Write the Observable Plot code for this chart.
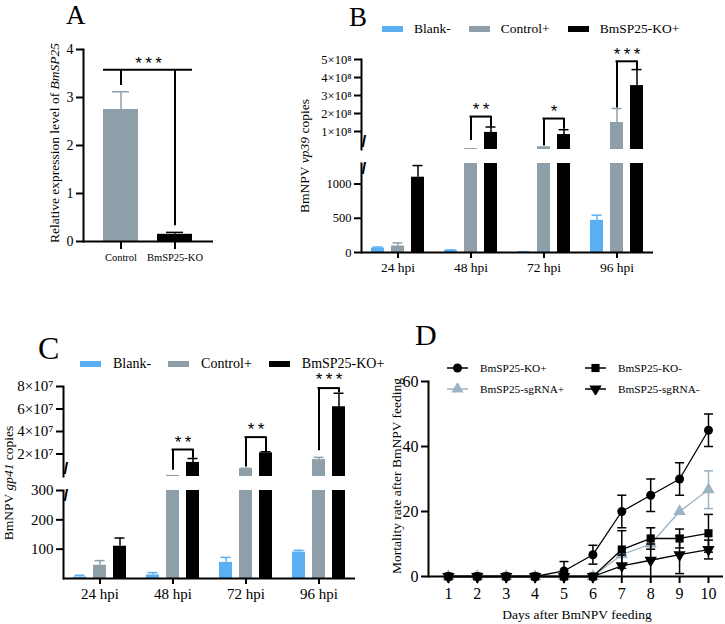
<!DOCTYPE html>
<html><head><meta charset="utf-8">
<script src="https://cdn.jsdelivr.net/npm/d3@7"></script>
<script src="https://cdn.jsdelivr.net/npm/@observablehq/plot@0.6"></script>
<style>
html,body{margin:0;padding:0;background:#fff;}
#root{position:relative;width:725px;height:624px;overflow:hidden;font-family:"Liberation Serif","Times New Roman",serif;color:#000;}
.letter{position:absolute;line-height:1;}
.ylab{position:absolute;white-space:nowrap;transform:translate(-50%,-50%) rotate(-90deg);font-size:13.5px;line-height:1;}
.xlab{position:absolute;white-space:nowrap;transform:translate(-50%,-50%);font-size:13.5px;line-height:1;}
.legend{position:absolute;display:flex;align-items:center;white-space:nowrap;line-height:1;}
.legend .item{display:flex;align-items:center;}
.legend .sw{display:inline-block;width:21px;height:6px;}
.dleg{position:absolute;display:grid;grid-template-columns:138px auto;grid-auto-rows:21px;font-size:11.3px;align-items:center;white-space:nowrap;}
.dleg .item{display:flex;align-items:center;}
.dleg svg{margin-right:12px;}
</style></head>
<body><div id="root"></div>
<script>
// ---------------- data ----------------
const times = ["24 hpi", "48 hpi", "72 hpi", "96 hpi"];
const seriesNames = ["Blank-", "Control+", "BmSP25-KO+"];

// Panel A
const aGroups = ["Control", "BmSP25-KO"];
const aMean = [2.75, 0.15];
const aErr = [0.37, 0.04];
const aBracket = {top: 3.58, left: 3.25, right: 0.33, star: 3.8, label: "***"};
const aTicks = [0, 1, 2, 3, 4];

// Panel B (vp39 copies)
const bBlank = [65, 30, 8, 470];
const bBlankErr = [15, 8, 4, 75];
const bControl = [95, 5e6, 1.5e7, 1.5e8];
const bControlErr = [45, 0, 0, 0.78e8];
const bKO = [1100, 0.95e8, 0.83e8, 3.55e8];
const bKOErr = [170, 0.3e8, 0.27e8, 0.89e8];
const bBrTimes = ["48 hpi", "72 hpi", "96 hpi"];
const bBrTop = [1.83e8, 1.72e8, 4.9e8];
const bBrLeft = [0.5e8, 0.2e8, 2.3e8];
const bBrRight = [1.25e8, 1.12e8, 4.45e8];
const bBrStar = [2.45e8, 2.33e8, 5.5e8];
const bBrLabel = ["**", "*", "***"];
const bLowTicks = [0, 500, 1000];
const bUpTicks = [1e8, 2e8, 3e8, 4e8, 5e8];

// Panel C (gp41 copies)
const cBlank = [5, 12, 55, 90];
const cBlankErr = [6, 8, 17, 6];
const cControl = [45, 1e6, 7e6, 1.5e7];
const cControlErr = [16, 0, 0.3e6, 0.2e7];
const cKO = [110, 1.25e7, 2.1e7, 6.2e7];
const cKOErr = [28, 0.35e7, 0.1e7, 1.2e7];
const cBrTimes = ["48 hpi", "72 hpi", "96 hpi"];
const cBrTop = [2.4e7, 3.5e7, 7.86e7];
const cBrLeft = [0.55e7, 0.85e7, 2.3e7];
const cBrRight = [1.62e7, 2.2e7, 7.45e7];
const cBrStar = [3.4e7, 4.55e7, 9.0e7];
const cBrLabel = ["**", "**", "***"];
const cLowTicks = [100, 200, 300];
const cUpTicks = [2e7, 4e7, 6e7, 8e7];

// Panel D (mortality, %)
const days = [1, 2, 3, 4, 5, 6, 7, 8, 9, 10];
const koPlus = [0, 0, 0, 0, 1.7, 6.7, 20, 25, 30, 45];
const koPlusErr = [0, 0, 0, 0, 2.9, 2.9, 5, 5, 5, 5];
const sgPlus = [0, 0, 0, 0, 0, 0, 6.7, 10, 20, 26.7];
const sgPlusErr = [0, 0, 0, 0, 0, 0, 0, 5, 0, 5.8];
const koMinus = [0, 0, 0, 0, 0, 0, 8.3, 11.7, 11.7, 13.3];
const koMinusErr = [0, 0, 0, 0, 0, 0, 5.8, 3.3, 2.9, 5.8];
const sgMinus = [0, 0, 0, 0, 0, 0, 3.3, 5, 6.7, 8.3];
const sgMinusErr = [0, 0, 0, 0, 0, 0, 3.3, 5, 5.8, 2.9];
const dTicksY = [0, 20, 40, 60];

// ---------------- style ----------------
const SERIF = '"Liberation Serif","Times New Roman",serif';
const SANS = '"Liberation Sans",Arial,sans-serif';
const COL_BLANK = "#5aaef2", COL_CTRL = "#8e9fa9", COL_KO = "#000000", COL_SG = "#9db3c1";
const seriesColors = [COL_BLANK, COL_CTRL, COL_KO];
const root = document.getElementById("root");
const baseStyle = {fontFamily: SERIF, fontSize: "13px", color: "#000", background: "transparent", overflow: "visible"};
const plain = d => String(d);

function place(node, left, top) {
  node.style.position = "absolute";
  node.style.left = left + "px";
  node.style.top = top + "px";
  root.appendChild(node);
  return node;
}
function div(cls, left, top, htmlText, extra) {
  const d = document.createElement("div");
  d.className = cls;
  d.innerHTML = htmlText;
  d.style.left = left + "px";
  d.style.top = top + "px";
  if (extra) Object.assign(d.style, extra);
  root.appendChild(d);
  return d;
}
const starText = s => s.split("").join("\u2009");

// ---------------- Panel A ----------------
const aColors = [COL_CTRL, COL_KO];
const aRows = aGroups.map((g, i) => ({group: g, mean: aMean[i], hi: aMean[i] + aErr[i], color: aColors[i]}));
place(Plot.plot({
  width: 190, height: 250, marginLeft: 43, marginRight: 17, marginTop: 19, marginBottom: 39,
  style: baseStyle,
  x: {type: "band", domain: aGroups, paddingInner: 0.345, paddingOuter: 0.355, label: null},
  y: {domain: [0, 4], label: null},
  marks: [
    Plot.barY(aRows, {x: "group", y: "mean", fill: "color"}),
    Plot.ruleX(aRows, {x: "group", y1: "mean", y2: "hi", stroke: "color", strokeWidth: 1.5}),
    Plot.tickY(aRows, {x: "group", y: "hi", stroke: "color", strokeWidth: 1.5, insetLeft: 9, insetRight: 9}),
    Plot.ruleX([aBracket], {x: () => aGroups[0], y1: "left", y2: "top", strokeWidth: 2}),
    Plot.ruleX([aBracket], {x: () => aGroups[1], y1: "right", y2: "top", strokeWidth: 2}),
    Plot.ruleY([aBracket], {y: "top", x1: () => aGroups[0], x2: () => aGroups[1], strokeWidth: 2}),
    Plot.text([aBracket], {y: "star", text: d => starText(d.label), fontFamily: SANS, fontSize: 17, dy: 4}),
    Plot.frame({anchor: "left", strokeWidth: 2}),
    Plot.ruleY([0], {strokeWidth: 2}),
    Plot.axisY({ticks: aTicks, tickFormat: plain, label: null, tickSize: 7, fontSize: 14, strokeWidth: 2}),
    Plot.axisX({label: null, tickSize: 8, tickPadding: 4, fontSize: 10.5, strokeWidth: 2})
  ]
}), 40, 30);

// ---------------- grouped broken-axis panels (B, C) ----------------
function buildRows(vals, errs, name, color) {
  return times.map((t, i) => ({time: t, series: name, value: vals[i], err: errs[i], hi: vals[i] + errs[i], color}));
}
function groupedPanel(cfg) {
  const BW = (cfg.width - cfg.mL - cfg.mR) / times.length;
  const barW = 13, gap = 20, capW = 10;
  const barInset = (BW - barW) / 2, capInset = (BW - capW) / 2;
  const lowMarks = [], upMarks = [];
  cfg.series.forEach((rows, k) => {
    const dx = (k - 1) * gap;
    const color = rows[0].color;
    lowMarks.push(
      Plot.barY(rows, {x: "time", y: d => Math.min(d.value, cfg.lowMax), fill: color, dx, insetLeft: barInset, insetRight: barInset}),
      Plot.ruleX(rows.filter(d => d.err > 0 && d.value < cfg.lowMax), {x: "time", y1: "value", y2: d => Math.min(d.hi, cfg.lowMax), stroke: color, strokeWidth: 1.5, dx}),
      Plot.tickY(rows.filter(d => d.err > 0 && d.hi < cfg.lowMax), {x: "time", y: "hi", stroke: color, strokeWidth: 1.5, dx, insetLeft: capInset, insetRight: capInset})
    );
    const big = rows.filter(d => d.value > cfg.lowMax);
    upMarks.push(
      Plot.barY(big, {x: "time", y: "value", fill: color, dx, insetLeft: barInset, insetRight: barInset}),
      Plot.ruleX(big.filter(d => d.err > 0), {x: "time", y1: "value", y2: "hi", stroke: color, strokeWidth: 1.5, dx}),
      Plot.tickY(big.filter(d => d.err > 0), {x: "time", y: "hi", stroke: color, strokeWidth: 1.5, dx, insetLeft: capInset, insetRight: capInset})
    );
  });
  const br = cfg.brackets;
  upMarks.push(
    Plot.ruleX(br, {x: "time", y1: "left", y2: "top", strokeWidth: 2}),
    Plot.ruleX(br, {x: "time", y1: "right", y2: "top", strokeWidth: 2, dx: gap}),
    Plot.tickY(br, {x: "time", y: "top", strokeWidth: 2, insetLeft: BW / 2 - 1, insetRight: BW / 2 - gap - 1}),
    Plot.text(br, {x: "time", y: "star", text: d => starText(d.label), dx: gap / 2, dy: 4, fontFamily: SANS, fontSize: 17}),
    Plot.frame({anchor: "left", strokeWidth: 2}),
    Plot.axisY({ticks: cfg.upTicks, tickFormat: cfg.upFormat, label: null, tickSize: 7, fontSize: cfg.tickFont, strokeWidth: 2}),
    Plot.text(["/"], {text: d => d, frameAnchor: "bottom-left", fontFamily: SANS, fontWeight: "bold", fontSize: 17, dy: -3})
  );
  lowMarks.push(
    Plot.frame({anchor: "left", strokeWidth: 2}),
    Plot.ruleY([0], {strokeWidth: 2}),
    Plot.axisY({ticks: cfg.lowTicks, tickFormat: plain, label: null, tickSize: 7, fontSize: cfg.tickFont, strokeWidth: 2}),
    Plot.axisX({label: null, tickSize: 6, tickPadding: 4, fontSize: cfg.xFont, strokeWidth: 2}),
    Plot.text(["/"], {text: d => d, frameAnchor: "top-left", fontFamily: SANS, fontWeight: "bold", fontSize: 17, dy: -2})
  );
  const xScale = {type: "band", domain: times, padding: 0, label: null};
  place(Plot.plot({
    width: cfg.width, height: cfg.up.height, marginLeft: cfg.mL, marginRight: cfg.mR,
    marginTop: cfg.up.mT, marginBottom: cfg.up.mB, style: baseStyle,
    x: {...xScale, axis: null}, y: {domain: [0, cfg.upMax], label: null}, marks: upMarks
  }), cfg.left, cfg.up.top);
  place(Plot.plot({
    width: cfg.width, height: cfg.low.height, marginLeft: cfg.mL, marginRight: cfg.mR,
    marginTop: cfg.low.mT, marginBottom: cfg.low.mB, style: baseStyle,
    x: xScale, y: {domain: [0, cfg.lowMax], label: null}, marks: lowMarks
  }), cfg.left, cfg.low.top);
}
function makeBrackets(ts, top, left, right, star, label) {
  return ts.map((t, i) => ({time: t, top: top[i], left: left[i], right: right[i], star: star[i], label: label[i]}));
}

// Panel B
groupedPanel({
  left: 300, width: 365, mL: 61, mR: 12,
  series: [buildRows(bBlank, bBlankErr, seriesNames[0], COL_BLANK), buildRows(bControl, bControlErr, seriesNames[1], COL_CTRL), buildRows(bKO, bKOErr, seriesNames[2], COL_KO)],
  lowMax: 1300, upMax: 5e8,
  low: {top: 150, height: 130, mT: 13, mB: 28},
  up: {top: 38, height: 115, mT: 21, mB: 4},
  lowTicks: bLowTicks, upTicks: bUpTicks, upFormat: d => `${Math.round(d / 1e8)}×10⁸`,
  tickFont: 12.5, xFont: 13.5,
  brackets: makeBrackets(bBrTimes, bBrTop, bBrLeft, bBrRight, bBrStar, bBrLabel)
});
// Panel C
groupedPanel({
  left: 0, width: 370, mL: 63, mR: 15,
  series: [buildRows(cBlank, cBlankErr, seriesNames[0], COL_BLANK), buildRows(cControl, cControlErr, seriesNames[1], COL_CTRL), buildRows(cKO, cKOErr, seriesNames[2], COL_KO)],
  lowMax: 300, upMax: 8e7,
  low: {top: 478, height: 146, mT: 12, mB: 46},
  up: {top: 366, height: 114, mT: 20, mB: 4},
  lowTicks: cLowTicks, upTicks: cUpTicks, upFormat: d => `${Math.round(d / 1e7)}×10⁷`,
  tickFont: 15, xFont: 15,
  brackets: makeBrackets(cBrTimes, cBrTop, cBrLeft, cBrRight, cBrStar, cBrLabel)
});

// ---------------- Panel D ----------------
const capSymbol = {draw(ctx, size) { const r = Math.sqrt(size / Math.PI); ctx.moveTo(-r, 0); ctx.lineTo(r, 0); }};
const dSeries = [
  {name: "BmSP25-sgRNA+", mean: sgPlus, err: sgPlusErr, color: COL_SG, symbol: "triangle", r: 4.6, rotate: 0},
  {name: "BmSP25-KO+", mean: koPlus, err: koPlusErr, color: COL_KO, symbol: "circle", r: 4.5, rotate: 0},
  {name: "BmSP25-sgRNA-", mean: sgMinus, err: sgMinusErr, color: COL_KO, symbol: "triangle", r: 4.6, rotate: 180},
  {name: "BmSP25-KO-", mean: koMinus, err: koMinusErr, color: COL_KO, symbol: "square", r: 4.6, rotate: 0}
];
const dMarks = [];
dSeries.forEach(s => {
  const rows = days.map((d, i) => ({day: d, mean: s.mean[i], err: s.err[i], lo: Math.max(0, s.mean[i] - s.err[i]), hi: s.mean[i] + s.err[i]}));
  const withErr = rows.filter(d => d.err > 0);
  dMarks.push(
    Plot.line(rows, {x: "day", y: "mean", stroke: s.color, strokeWidth: 1.3}),
    Plot.ruleX(withErr, {x: "day", y1: "lo", y2: "hi", stroke: s.color, strokeWidth: 1.5}),
    Plot.dot(withErr, {x: "day", y: "hi", symbol: capSymbol, r: 4.5, stroke: s.color, strokeWidth: 1.5}),
    Plot.dot(withErr.filter(d => d.lo > 0), {x: "day", y: "lo", symbol: capSymbol, r: 4.5, stroke: s.color, strokeWidth: 1.5}),
    Plot.dot(rows, {x: "day", y: "mean", symbol: s.symbol, r: s.r, fill: s.color, stroke: "none", rotate: s.rotate})
  );
});
place(Plot.plot({
  width: 355, height: 254, marginLeft: 58, marginRight: 2, marginTop: 11, marginBottom: 48,
  style: baseStyle,
  x: {domain: [0.31, 10.52], label: null}, y: {domain: [0, 60], label: null},
  marks: [
    Plot.frame({anchor: "left", strokeWidth: 2}),
    Plot.axisY({ticks: dTicksY, tickFormat: plain, label: null, tickSize: 7, fontSize: 16, strokeWidth: 2}),
    Plot.axisX({ticks: days, tickFormat: plain, label: null, tickSize: 7, tickPadding: 4, fontSize: 16, strokeWidth: 2}),
    ...dMarks,
    Plot.ruleY([0], {strokeWidth: 2})
  ]
}), 370, 370);

// ---------------- texts & legends ----------------
div("letter", 66, 2, "A", {fontSize: "27px"});
div("letter", 349, 4, "B", {fontSize: "27px"});
div("letter", 38, 332, "C", {fontSize: "32px"});
div("letter", 415, 320, "D", {fontSize: "30px"});

div("ylab", 55, 143, "Relative expression level of <i>BmSP25</i>");
div("ylab", 305, 156, "BmNPV <i>vp39</i> copies");
div("ylab", 9, 483, "BmNPV <i>gp41</i> copies");
div("ylab", 397, 476, "Mortality rate after BmNPV feeding");
div("xlab", 577, 615, "Days after BmNPV feeding");

function barLegend(left, top, fontSize, gapPx, swGap) {
  const lg = div("legend", left, top, "", {fontSize: fontSize + "px", gap: gapPx + "px"});
  seriesNames.forEach((n, i) => {
    const it = document.createElement("span");
    it.className = "item";
    it.innerHTML = `<span class="sw" style="background:${seriesColors[i]};margin-right:${swGap}px"></span>${n}`;
    lg.appendChild(it);
  });
}
barLegend(382, 22, 13.5, 18, 11);
barLegend(80, 357, 14, 17, 12);

const dLegendOrder = ["BmSP25-KO+", "BmSP25-KO-", "BmSP25-sgRNA+", "BmSP25-sgRNA-"];
const dl = div("dleg", 447, 357, "");
dLegendOrder.forEach(name => {
  const s = dSeries.find(q => q.name === name);
  const typeMap = {circle: d3.symbolCircle, square: d3.symbolSquare, triangle: d3.symbolTriangle};
  const path = d3.symbol(typeMap[s.symbol], Math.PI * s.r * s.r)();
  const it = document.createElement("span");
  it.className = "item";
  it.innerHTML = `<svg width="21" height="12" viewBox="-10.5 -6 21 12"><line x1="-10.5" x2="10.5" y1="0" y2="0" stroke="${s.color}" stroke-width="1.5"/><path d="${path}" fill="${s.color}" transform="rotate(${s.rotate})"/></svg>${name}`;
  dl.appendChild(it);
});
</script></body></html>
